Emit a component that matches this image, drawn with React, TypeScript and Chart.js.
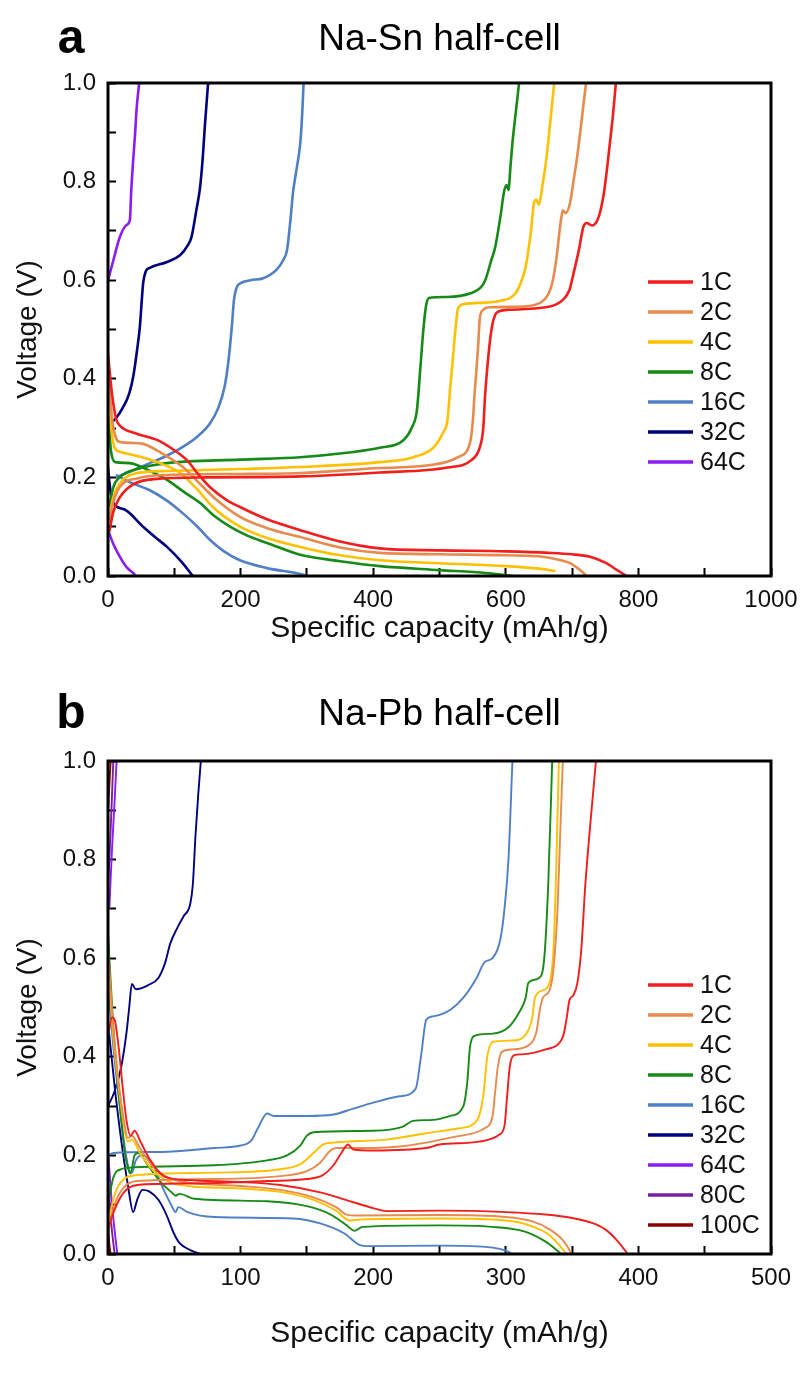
import React, { useEffect, useRef } from 'react';
import { Chart, registerables } from 'chart.js';
Chart.register(...registerables);

type Pt = [number, number];

// ---------------- Panel a: Na-Sn half-cell ----------------
const snRates = ['1C', '2C', '4C', '8C', '16C', '32C', '64C'];
const snColors = ['#F21D1D', '#E88A4C', '#FFC000', '#168A16', '#4F7FC6', '#00007F', '#8A1CF5'];
const snXTicks = [0, 200, 400, 600, 800, 1000];

const sn1CDischarge: Pt[] = [[0,0.45],[6,0.37],[12,0.32],[18,0.305],[40,0.29],[74,0.276],[100,0.255],[119,0.235],[137,0.205],[154,0.18],[179,0.154],[199,0.14],[240,0.115],[290,0.093],[350,0.07],[410,0.056],[500,0.052],[600,0.05],[665,0.047],[700,0.044],[727,0.039],[750,0.027],[768,0.012],[782,0]];
const sn1CCharge: Pt[] = [[2,0.09],[8,0.13],[18,0.16],[38,0.186],[74,0.197],[150,0.2],[290,0.202],[410,0.21],[512,0.22],[548,0.235],[561,0.262],[566,0.3],[569,0.371],[574,0.45],[579,0.505],[584,0.53],[590,0.537],[605,0.54],[665,0.546],[686,0.56],[696,0.58],[701,0.607],[710,0.66],[717,0.708],[722,0.716],[730,0.711],[740,0.728],[748,0.777],[753,0.83],[757,0.878],[762,0.94],[766,1.0]];
const sn2CDischarge: Pt[] = [[0,0.43],[6,0.32],[12,0.28],[18,0.272],[35,0.27],[53,0.268],[80,0.25],[113,0.221],[140,0.185],[164,0.154],[199,0.12],[240,0.097],[290,0.079],[350,0.058],[410,0.047],[500,0.044],[600,0.042],[656,0.039],[680,0.033],[697,0.026],[712,0.012],[722,0]];
const sn2CCharge: Pt[] = [[2,0.11],[8,0.15],[18,0.181],[44,0.198],[89,0.205],[200,0.207],[290,0.209],[410,0.219],[487,0.225],[528,0.241],[546,0.27],[550,0.31],[553,0.371],[558,0.46],[561,0.525],[566,0.54],[575,0.545],[615,0.546],[650,0.553],[665,0.574],[671,0.6],[676,0.641],[683,0.72],[686,0.742],[690,0.736],[697,0.757],[702,0.8],[707,0.844],[714,0.92],[721,1.0]];
const sn4CDischarge: Pt[] = [[0,0.4],[5,0.3],[10,0.26],[18,0.252],[48,0.242],[80,0.228],[109,0.209],[135,0.175],[158,0.14],[199,0.1],[240,0.077],[290,0.059],[350,0.042],[410,0.032],[500,0.026],[600,0.02],[650,0.015],[675,0.01]];
const sn4CCharge: Pt[] = [[2,0.12],[8,0.16],[18,0.188],[44,0.209],[89,0.213],[200,0.217],[290,0.221],[410,0.231],[461,0.241],[492,0.262],[505,0.29],[512,0.316],[516,0.38],[520,0.438],[524,0.5],[528,0.543],[538,0.552],[590,0.558],[615,0.574],[624,0.6],[630,0.627],[638,0.7],[643,0.76],[646,0.763],[650,0.753],[655,0.79],[661,0.844],[667,0.92],[673,1.0]];
const sn8CDischarge: Pt[] = [[0,0.35],[4,0.26],[8,0.235],[11,0.231],[33,0.229],[60,0.215],[89,0.195],[115,0.17],[139,0.148],[160,0.122],[184,0.1],[210,0.082],[240,0.067],[290,0.043],[350,0.03],[410,0.02],[500,0.012],[570,0.006],[612,0]];
const sn8CCharge: Pt[] = [[2,0.14],[8,0.18],[18,0.201],[44,0.217],[89,0.229],[200,0.236],[290,0.241],[360,0.25],[410,0.26],[446,0.276],[458,0.3],[466,0.337],[471,0.42],[476,0.505],[480,0.55],[484,0.564],[512,0.566],[548,0.574],[562,0.585],[569,0.6],[578,0.64],[584,0.667],[592,0.73],[597,0.777],[601,0.793],[604,0.783],[607,0.83],[610,0.878],[615,0.94],[620,1.0]];
const sn16CDischarge: Pt[] = [[12,0.205],[30,0.192],[63,0.174],[90,0.152],[113,0.127],[135,0.1],[154,0.073],[175,0.05],[199,0.032],[240,0.016],[290,0.004],[300,0]];
const sn16CCharge: Pt[] = [[12,0.2],[30,0.21],[63,0.229],[90,0.245],[113,0.262],[135,0.283],[154,0.31],[166,0.34],[176,0.385],[182,0.44],[187,0.51],[190,0.56],[194,0.585],[200,0.594],[215,0.6],[234,0.604],[254,0.621],[264,0.64],[270,0.661],[275,0.72],[279,0.777],[285,0.83],[290,0.878],[293,0.94],[295,1.0]];
const sn32CDischarge: Pt[] = [[0,0.22],[3,0.18],[8,0.148],[25,0.135],[53,0.1],[70,0.08],[89,0.059],[110,0.03],[128,0]];
const sn32CCharge: Pt[] = [[0,0.306],[12,0.32],[23,0.343],[32,0.37],[38,0.404],[44,0.46],[48,0.505],[51,0.56],[53,0.594],[57,0.618],[63,0.625],[89,0.637],[109,0.651],[120,0.67],[126,0.688],[133,0.74],[139,0.79],[143,0.85],[146,0.911],[151,1.0]];
const sn64CDischarge: Pt[] = [[0,0.093],[8,0.065],[18,0.039],[28,0.018],[38,0.006],[42,0]];
const sn64CCharge: Pt[] = [[0,0.6],[8,0.64],[18,0.688],[28,0.712],[33,0.722],[35,0.78],[38,0.844],[41,0.9],[43,0.945],[47,1.0]];

// ---------------- Panel b: Na-Pb half-cell ----------------
const pbRates = ['1C', '2C', '4C', '8C', '16C', '32C', '64C', '80C', '100C'];
const pbColors = ['#F21D1D', '#E88A4C', '#FFC000', '#168A16', '#4F7FC6', '#00007F', '#8A1CF5', '#7A1FA0', '#8B0000'];
const pbXTicks = [0, 100, 200, 300, 400, 500];

const pb1CDischarge: Pt[] = [[0,0.44],[3,0.48],[5,0.475],[8,0.42],[11,0.34],[14,0.27],[17,0.24],[20,0.25],[25,0.225],[32,0.19],[42,0.158],[60,0.15],[100,0.146],[130,0.14],[160,0.125],[185,0.105],[200,0.093],[210,0.087],[250,0.088],[300,0.085],[330,0.08],[350,0.073],[365,0.063],[375,0.05],[383,0.03],[392,0]];
const pb1CCharge: Pt[] = [[0,0.05],[5,0.09],[12,0.125],[22,0.14],[60,0.143],[120,0.148],[150,0.152],[162,0.16],[170,0.18],[176,0.205],[181,0.222],[185,0.212],[200,0.21],[240,0.215],[250,0.222],[280,0.228],[295,0.242],[299,0.26],[301,0.32],[303,0.38],[306,0.403],[312,0.405],[330,0.415],[343,0.44],[346,0.48],[348,0.515],[351,0.525],[354,0.55],[357,0.62],[360,0.75],[364,0.88],[368,1.0]];
const pb2CDischarge: Pt[] = [[0,0.62],[4,0.46],[8,0.35],[12,0.27],[15,0.235],[18,0.24],[24,0.215],[33,0.18],[45,0.155],[60,0.145],[100,0.138],[130,0.13],[155,0.115],[172,0.095],[180,0.08],[188,0.078],[250,0.079],[300,0.075],[320,0.066],[333,0.05],[343,0.028],[350,0]];
const pb2CCharge: Pt[] = [[0,0.04],[5,0.1],[12,0.135],[22,0.148],[80,0.152],[130,0.158],[150,0.168],[160,0.185],[167,0.208],[172,0.215],[200,0.215],[220,0.218],[240,0.226],[262,0.238],[284,0.255],[290,0.28],[292,0.33],[294,0.38],[297,0.41],[305,0.415],[318,0.425],[323,0.45],[326,0.5],[328,0.52],[333,0.535],[336,0.58],[339,0.7],[341,0.85],[343,1.0]];
const pb4CDischarge: Pt[] = [[0,0.6],[4,0.44],[8,0.34],[12,0.26],[15,0.228],[18,0.232],[24,0.205],[33,0.172],[45,0.148],[60,0.138],[100,0.133],[130,0.126],[155,0.11],[172,0.088],[182,0.068],[190,0.07],[250,0.072],[300,0.068],[320,0.056],[333,0.038],[346,0]];
const pb4CCharge: Pt[] = [[0,0.06],[5,0.12],[12,0.152],[22,0.16],[80,0.165],[130,0.172],[145,0.182],[155,0.205],[162,0.222],[170,0.226],[210,0.232],[240,0.245],[265,0.255],[278,0.27],[283,0.32],[286,0.4],[290,0.43],[305,0.433],[315,0.445],[320,0.48],[322,0.52],[328,0.535],[333,0.55],[336,0.62],[338,0.78],[340,1.0]];
const pb8CDischarge: Pt[] = [[0,0.65],[4,0.46],[8,0.33],[12,0.22],[15,0.175],[17,0.163],[20,0.2],[23,0.205],[30,0.18],[40,0.145],[48,0.125],[51,0.118],[54,0.122],[65,0.112],[120,0.107],[150,0.097],[168,0.08],[180,0.058],[186,0.047],[192,0.055],[250,0.058],[290,0.055],[315,0.045],[330,0.025],[342,0]];
const pb8CCharge: Pt[] = [[0,0.1],[4,0.155],[10,0.172],[20,0.176],[80,0.18],[120,0.19],[135,0.2],[145,0.22],[150,0.24],[155,0.247],[200,0.25],[222,0.258],[230,0.27],[245,0.272],[258,0.28],[268,0.3],[271,0.35],[273,0.42],[277,0.443],[290,0.447],[302,0.46],[310,0.49],[315,0.52],[317,0.55],[325,0.56],[329,0.6],[332,0.75],[335,1.0]];
const pb16CDischarge: Pt[] = [[0,0.55],[4,0.42],[8,0.32],[13,0.21],[16,0.17],[18,0.165],[21,0.19],[26,0.2],[33,0.185],[42,0.13],[48,0.098],[51,0.085],[53,0.095],[60,0.085],[80,0.075],[140,0.072],[160,0.062],[178,0.042],[190,0.018],[196,0.016],[250,0.017],[290,0.013],[300,0.007],[305,0]];
const pb16CCharge: Pt[] = [[0,0.2],[4,0.205],[40,0.207],[80,0.215],[100,0.22],[108,0.23],[113,0.255],[120,0.285],[125,0.28],[150,0.28],[170,0.283],[185,0.295],[200,0.307],[220,0.32],[232,0.335],[236,0.4],[240,0.475],[245,0.482],[258,0.495],[268,0.52],[278,0.56],[284,0.592],[290,0.6],[296,0.64],[299,0.7],[302,0.8],[305,1.0]];
const pb32CDischarge: Pt[] = [[0,0.47],[5,0.34],[10,0.23],[15,0.14],[19,0.085],[22,0.11],[26,0.13],[31,0.127],[38,0.11],[44,0.08],[50,0.04],[54,0.022],[62,0.008],[70,0]];
const pb32CCharge: Pt[] = [[0,0.3],[5,0.33],[10,0.38],[14,0.45],[16,0.5],[18,0.548],[21,0.537],[30,0.545],[38,0.56],[43,0.59],[47,0.63],[52,0.66],[57,0.685],[62,0.71],[64,0.75],[66,0.85],[68,0.93],[70,1.0]];
const pb64CDischarge: Pt[] = [[0,0.21],[3,0.1],[7,0]];
const pb64CCharge: Pt[] = [[1,0.7],[3,0.82],[5,0.92],[6.5,1.0]];
const pb80CDischarge: Pt[] = [[0,0.15],[2.5,0.06],[5,0]];
const pb80CCharge: Pt[] = [[0,0.74],[2,0.86],[4,1.0]];
const pb100CDischarge: Pt[] = [[0,0.06],[1,0.02],[2,0]];
const pb100CCharge: Pt[] = [[0,0.9],[1,0.95],[2,1.0]];

const snCurves: [Pt[], Pt[]][] = [
  [sn1CDischarge, sn1CCharge], [sn2CDischarge, sn2CCharge], [sn4CDischarge, sn4CCharge],
  [sn8CDischarge, sn8CCharge], [sn16CDischarge, sn16CCharge], [sn32CDischarge, sn32CCharge],
  [sn64CDischarge, sn64CCharge],
];
const pbCurves: [Pt[], Pt[]][] = [
  [pb1CDischarge, pb1CCharge], [pb2CDischarge, pb2CCharge], [pb4CDischarge, pb4CCharge],
  [pb8CDischarge, pb8CCharge], [pb16CDischarge, pb16CCharge], [pb32CDischarge, pb32CCharge],
  [pb64CDischarge, pb64CCharge], [pb80CDischarge, pb80CCharge], [pb100CDischarge, pb100CCharge],
];

const FONT = "'Liberation Sans', Arial, Helvetica, sans-serif";

function toPoints(dis: Pt[], chg: Pt[]) {
  const d = dis.map(([x, y]) => ({ x, y }));
  const c = chg.map(([x, y]) => ({ x, y }));
  return [...d, { x: d[d.length - 1].x, y: null as any }, ...c];
}

const panelDeco = {
  id: 'panelDeco',
  afterDatasetsDraw(chart: any, _args: any, opts: any) {
    const { ctx, chartArea: a } = chart;
    ctx.save();
    ctx.strokeStyle = '#000';
    ctx.lineWidth = 3;
    ctx.strokeRect(a.left, a.top, a.right - a.left, a.bottom - a.top);
    const ds = chart.data.datasets;
    ctx.font = `25px ${FONT}`;
    ctx.textBaseline = 'middle';
    ctx.textAlign = 'left';
    ds.forEach((d: any, i: number) => {
      const y = a.top + opts.legendTop + i * opts.legendGap;
      ctx.strokeStyle = d.borderColor;
      ctx.lineWidth = 3.5;
      ctx.beginPath();
      ctx.moveTo(opts.legendX, y);
      ctx.lineTo(opts.legendX + 45, y);
      ctx.stroke();
      ctx.fillStyle = '#111';
      ctx.fillText(d.label, opts.legendX + 52, y + 1);
    });
    ctx.fillStyle = '#000';
    ctx.textAlign = 'center';
    ctx.font = `37px ${FONT}`;
    ctx.fillText(opts.title, (a.left + a.right) / 2, opts.titleY);
    ctx.font = `bold 48px ${FONT}`;
    ctx.fillText(opts.letter, 71, opts.titleY);
    ctx.restore();
  },
};

interface PanelProps {
  top: number;
  height: number;
  letter: string;
  title: string;
  rates: string[];
  colors: string[];
  curves: [Pt[], Pt[]][];
  xMax: number;
  xStep: number;
  xLabels: number[];
  lineWidth: number;
  xAxisH: number;
  padBottom: number;
  titleY: number;
  legendTop: number;
}

function Panel(p: PanelProps) {
  const ref = useRef<HTMLCanvasElement | null>(null);
  useEffect(() => {
    if (!ref.current) return;
    const datasets = p.rates.map((r, i) => ({
      label: r,
      data: toPoints(p.curves[i][0], p.curves[i][1]),
      borderColor: p.colors[i],
      backgroundColor: p.colors[i],
      borderWidth: p.lineWidth,
      pointRadius: 0,
      fill: false,
      spanGaps: false,
      cubicInterpolationMode: 'monotone' as const,
    }));
    const chart = new Chart(ref.current, {
      type: 'line',
      data: { datasets },
      plugins: [panelDeco],
      options: {
        responsive: false,
        animation: false,
        layout: { padding: { top: 83, left: 0, right: 33, bottom: p.padBottom } },
        plugins: {
          legend: { display: false },
          tooltip: { enabled: false },
          panelDeco: { letter: p.letter, title: p.title, titleY: p.titleY, legendTop: p.legendTop, legendGap: 30, legendX: 648 },
        } as any,
        scales: {
          x: {
            type: 'linear',
            min: 0,
            max: p.xMax,
            afterFit: (s: any) => { s.height = p.xAxisH; s.paddingLeft = 0; s.paddingRight = 0; },
            border: { display: false },
            grid: { drawOnChartArea: false, drawTicks: true, tickLength: -8, tickWidth: 2, tickColor: '#000' },
            ticks: {
              stepSize: p.xStep,
              autoSkip: false,
              maxRotation: 0,
              padding: 18,
              color: '#111',
              font: { family: FONT, size: 24 },
              callback: (v: any) => (p.xLabels.includes(Number(v)) ? String(v) : ''),
            },
            title: { display: true, text: 'Specific capacity (mAh/g)', color: '#111', font: { family: FONT, size: 30 }, padding: { top: 0, bottom: 0 } },
          },
          y: {
            type: 'linear',
            min: 0,
            max: 1,
            afterFit: (s: any) => { s.width = 108; s.paddingTop = 0; s.paddingBottom = 0; },
            border: { display: false },
            grid: { drawOnChartArea: false, drawTicks: true, tickLength: -8, tickWidth: 2, tickColor: '#000' },
            ticks: {
              stepSize: 0.1,
              autoSkip: false,
              padding: 20,
              color: '#111',
              font: { family: FONT, size: 24 },
              callback: (v: any) => (Math.round(Number(v) * 10) % 2 === 0 ? Number(v).toFixed(1) : ''),
            },
            title: { display: true, text: 'Voltage (V)', color: '#111', font: { family: FONT, size: 28 }, padding: { top: 11, bottom: 0 } },
          },
        },
      },
    });
    return () => chart.destroy();
  }, []);
  return (
    <div style={{ position: 'absolute', left: 0, top: p.top, width: 804, height: p.height }}>
      <canvas ref={ref} width={804} height={p.height} />
    </div>
  );
}

export default function App() {
  return (
    <div style={{ position: 'absolute', left: 0, top: 0, width: 804, height: 1378, overflow: 'hidden', background: '#fff' }}>
      <Panel top={0} height={678} letter="a" title="Na-Sn half-cell" rates={snRates} colors={snColors} curves={snCurves}
        xMax={1000} xStep={100} xLabels={snXTicks} lineWidth={2.6} xAxisH={71} padBottom={31} titleY={40} legendTop={199} />
      <Panel top={678} height={700} letter="b" title="Na-Pb half-cell" rates={pbRates} colors={pbColors} curves={pbCurves}
        xMax={500} xStep={50} xLabels={pbXTicks} lineWidth={1.9} xAxisH={98} padBottom={26} titleY={37} legendTop={224} />
    </div>
  );
}
